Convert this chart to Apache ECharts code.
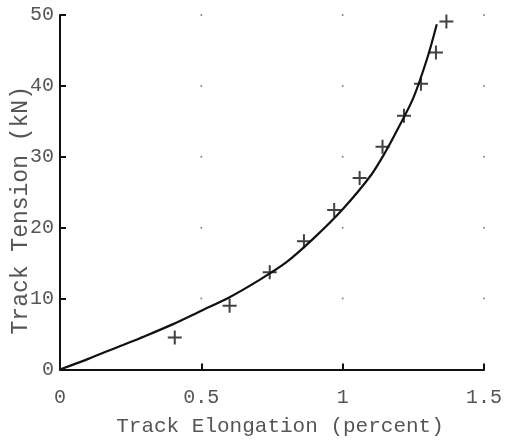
<!DOCTYPE html>
<html>
<head>
<meta charset="utf-8">
<script src="https://cdn.jsdelivr.net/npm/echarts@6/dist/echarts.min.js"></script>
<style>
  html, body { margin: 0; padding: 0; background: #fff; }
  #chart { width: 508px; height: 443px; }
</style>
</head>
<body>
<div id="chart"></div>
<script>
// measured points (crosses)
const measuredX = [0.406, 0.600, 0.742, 0.863, 0.970, 1.060, 1.141, 1.217, 1.277, 1.330, 1.367]
const measuredY = [4.5, 9.0, 13.7, 18.1, 22.5, 27.0, 31.4, 35.8, 40.3, 44.7, 49.1]

// fitted curve
const curveX = [0, 0.1, 0.2, 0.3, 0.4, 0.5, 0.6, 0.7, 0.8, 0.9, 1.0, 1.1, 1.15, 1.2, 1.25, 1.3, 1.333]
const curveY = [0, 1.5, 3.1, 4.7, 6.4, 8.3, 10.2, 12.5, 15.1, 18.6, 22.6, 27.4, 30.6, 34.3, 38.3, 44.0, 48.7]

// dotted grid intersections
const gridXTicks = [0.5, 1, 1.5]
const gridYTicks = [10, 20, 30, 40, 50]

const font = 'Liberation Mono'
const textColor = '#555'

const chart = echarts.init(document.getElementById('chart'))

const dots = []
gridXTicks.forEach(x => gridYTicks.forEach(y => dots.push([x, y])))

const plusPath = 'path://M-1,-7H1V-1H7V1H1V7H-1V1H-7V-1H-1Z'

chart.setOption({
  animation: false,
  grid: { left: 60, right: 24, top: 15, bottom: 73.5, containLabel: false, outerBoundsMode: 'none' },
  xAxis: {
    type: 'value',
    min: 0,
    max: 1.5,
    interval: 0.5,
    name: 'Track Elongation (percent)',
    nameLocation: 'middle',
    nameGap: 46,
    nameMoveOverlap: false,
    nameTextStyle: { fontFamily: font, fontSize: 21, color: textColor, padding: [0, 0, 0, 16] },
    axisLine: { lineStyle: { color: '#111', width: 2 } },
    axisTick: { inside: true, length: 6, lineStyle: { color: '#111', width: 2 } },
    axisLabel: {
      fontFamily: font, fontSize: 20, color: textColor, margin: 18,
      formatter: v => String(v)
    },
    splitLine: { show: false }
  },
  yAxis: {
    type: 'value',
    min: 0,
    max: 50,
    interval: 10,
    name: 'Track Tension (kN)',
    nameLocation: 'middle',
    nameGap: 28,
    nameMoveOverlap: false,
    nameTextStyle: { fontFamily: font, fontSize: 23, color: textColor, padding: [0, 36, 0, 0] },
    axisLine: { lineStyle: { color: '#111', width: 2 } },
    axisTick: { inside: true, length: 6, lineStyle: { color: '#111', width: 2 } },
    axisLabel: { fontFamily: font, fontSize: 20, color: textColor, margin: 6 },
    splitLine: { show: false }
  },
  series: [
    {
      name: 'grid',
      type: 'scatter',
      data: dots,
      symbol: 'circle',
      symbolSize: 2,
      itemStyle: { color: '#666' },
      silent: true,
      z: 1
    },
    {
      name: 'fit',
      type: 'line',
      data: curveX.map((x, i) => [x, curveY[i]]),
      smooth: 0.3,
      showSymbol: false,
      lineStyle: { color: '#111', width: 2.2 },
      z: 2
    },
    {
      name: 'measured',
      type: 'scatter',
      data: measuredX.map((x, i) => [x, measuredY[i]]),
      symbol: plusPath,
      symbolSize: 14,
      itemStyle: { color: '#111' },
      z: 3
    }
  ]
})
</script>
</body>
</html>
